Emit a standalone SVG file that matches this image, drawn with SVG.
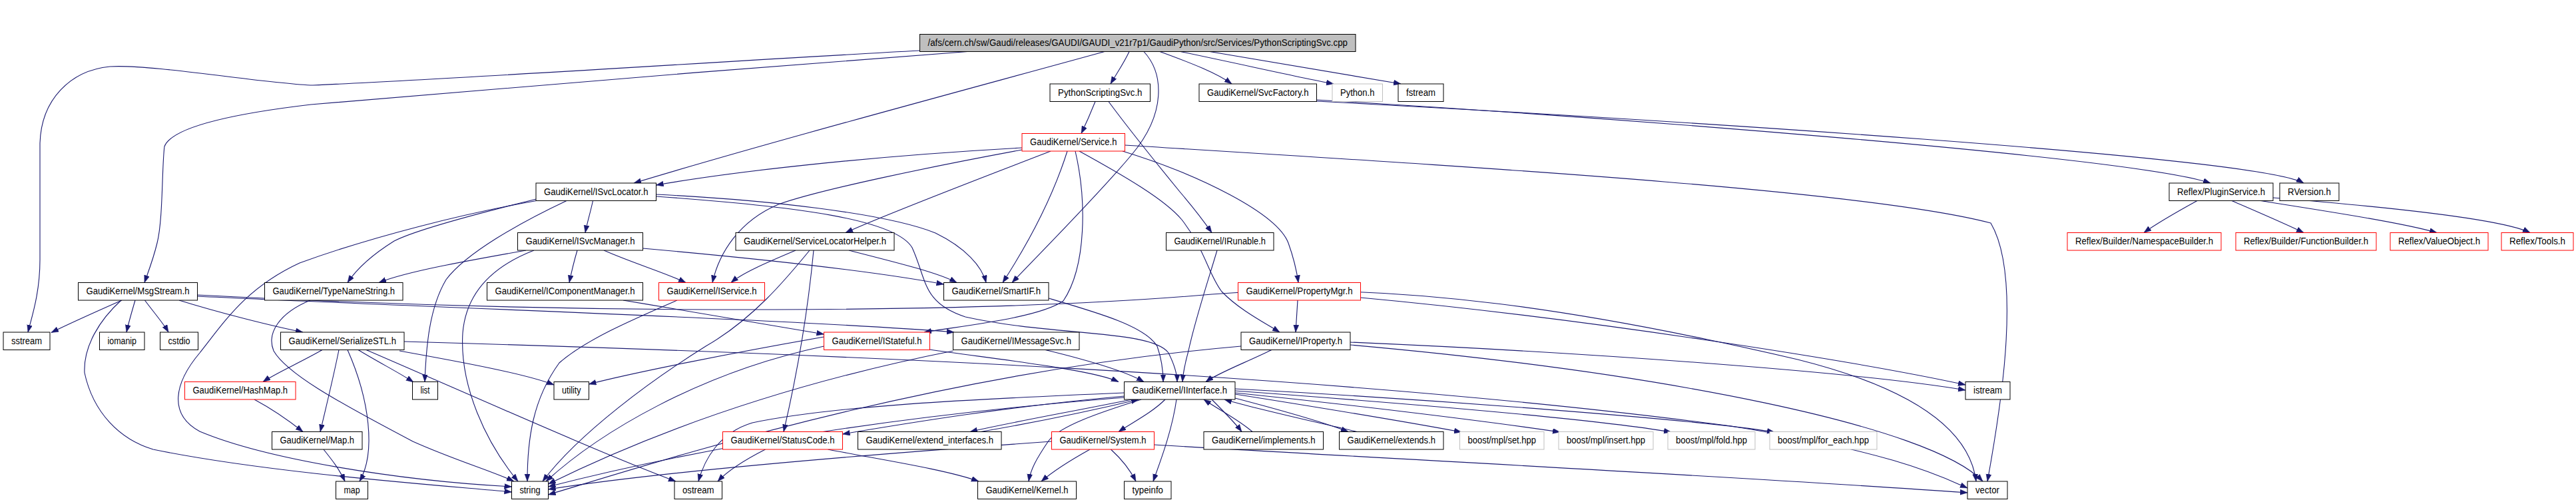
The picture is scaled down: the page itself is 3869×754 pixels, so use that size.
<svg xmlns="http://www.w3.org/2000/svg" width="3869" height="754" viewBox="0 0 3869 754">
<style>
.node rect{fill:#ffffff;stroke:#000000;stroke-width:1}
.node.red rect{stroke:#ff0000}
.node.ext rect{stroke:#bfbfbf}
.node.root rect{fill:#bfbfbf}
.node text{font-family:"Liberation Sans",Arial,sans-serif;font-size:14px;fill:#000000;text-anchor:middle}
#edges path{fill:none;stroke:#191970;stroke-width:1.1;marker-end:url(#arr)}
</style>
<defs>
<marker id="arr" markerUnits="userSpaceOnUse" markerWidth="12" markerHeight="9" refX="11" refY="4" orient="auto">
<path d="M0,0 L11,4 L0,8 z" fill="#191970" stroke="#191970" stroke-width="0.5"/>
</marker>
</defs>
<rect x="0" y="0" width="3869" height="754" fill="#ffffff"/>
<g id="edges">
<path d="M1381.5,76 C1150,88 700,118 470,128 C400,126 230,96 165,100 C105,106 62,150 60,215 L60,390 C60,440 48,475 42,499"/>
<path d="M1453,77.5 C1150,100 650,140 467,157 C340,172 258,192 247,220 C243,250 245,330 236,365 C230,390 222,410 217,424.5"/>
<path d="M1659,77.5 C1450,135 1150,215 952,275"/>
<path d="M1696,77.5 C1688,95 1676,112 1668,126"/>
<path d="M1718,77.5 C1748,110 1752,170 1700,232 C1650,292 1570,372 1520,424.5"/>
<path d="M1742,77.5 C1790,95 1828,110 1850,126"/>
<path d="M1773,77.5 C1880,100 1960,118 2003,126"/>
<path d="M1817,77.5 C1950,100 2060,118 2104,126"/>
<path d="M1645,152.5 C1638,170 1630,188 1624,200.5"/>
<path d="M1665,152.5 C1700,200 1745,255 1772,288 C1795,315 1810,335 1820,349.5"/>
<path d="M1535,222 C1300,235 1100,258 985.5,278"/>
<path d="M1578,227 C1480,265 1330,322 1270,349.5"/>
<path d="M1535,225 C1400,250 1230,285 1169,307 C1110,332 1080,380 1070,424.5"/>
<path d="M1603,227 C1580,300 1540,372 1506,424.5"/>
<path d="M1615,227 C1632,300 1632,400 1597,452 C1560,478 1440,490 1388,499"/>
<path d="M1621,227 C1690,265 1750,300 1775,330 C1810,375 1815,412 1835,438 C1862,466 1900,485 1922,499"/>
<path d="M1686,227 C1800,262 1918,320 1935,365 C1944,390 1948,410 1950,424.5"/>
<path d="M1689.5,218 C2200,250 2800,285 2990,335 C3040,420 3000,640 2985,723"/>
<path d="M1977.5,150 C2400,175 3200,235 3320,275"/>
<path d="M1977.5,152 C2500,180 3390,235 3460,275"/>
<path d="M3300,301.5 C3270,318 3240,335 3220,349.5"/>
<path d="M3352,301.5 C3390,318 3430,335 3460,349.5"/>
<path d="M3395,301.5 C3500,318 3610,335 3660,349.5"/>
<path d="M3414,297 C3600,312 3760,330 3800,349.5"/>
<path d="M890.5,301.5 C887,318 882,334 879,349.5"/>
<path d="M805.5,299 C720,320 625,345 592,362 C560,382 535,405 522,424.5"/>
<path d="M805.5,301.5 C700,320 560,355 450,395 C370,432 338,482 300,530 C262,575 252,622 300,648 C400,690 600,722 768.5,731"/>
<path d="M851,301.5 C780,335 700,380 670,420 C645,462 640,520 638,573.5"/>
<path d="M985.5,292 C1150,300 1330,320 1405,350 C1450,372 1475,400 1481,424.5"/>
<path d="M985.5,295 C1200,310 1345,330 1370,372 C1392,420 1385,455 1450,476 C1580,505 1730,495 1755,530 C1765,550 1768,562 1768,573.5"/>
<path d="M867,376 C862,393 858,410 855,424.5"/>
<path d="M907,376 C950,395 1000,410 1030,424.5"/>
<path d="M790,376 C700,392 610,408 569,424.5"/>
<path d="M802,376 C740,400 700,440 695,500 C690,580 730,665 778,723"/>
<path d="M965.5,373 C1100,385 1300,405 1417.5,427"/>
<path d="M1195,376 C1150,395 1115,410 1098,424.5"/>
<path d="M1275,376 C1350,395 1410,410 1437,424.5"/>
<path d="M1222,376 C1215,450 1200,550 1177,648.5"/>
<path d="M1216,376 C1180,420 1130,480 1060,520 C980,570 870,650 815,723"/>
<path d="M1828,376 C1815,420 1795,480 1785,527 C1780,545 1777,560 1776,573.5"/>
<path d="M466,451 C420,470 400,500 411,527 C430,560 500,600 620,663 C680,690 740,708 772,723"/>
<path d="M183,451 C140,470 100,488 77,499.5"/>
<path d="M203,451 C198,468 193,485 190,499"/>
<path d="M217.5,451 C230,468 245,485 253,499"/>
<path d="M269,451 C330,470 410,490 455,499"/>
<path d="M182,451 C150,480 125,520 127,560 C140,620 180,660 230,675 C400,710 650,728 768.5,739"/>
<path d="M296.5,445 C600,460 1200,480 1433,499"/>
<path d="M296.5,443 C900,475 1500,470 1820,442 C2100,420 2400,470 2700,540 C2900,590 2960,660 2968,723"/>
<path d="M1949,451 C1948,468 1947,485 1946,499"/>
<path d="M2043.5,447 C2400,480 2800,545 2952,578"/>
<path d="M484,525.5 C450,545 415,560 395,573.5"/>
<path d="M509,525.5 C500,570 490,610 481,648.5"/>
<path d="M522,525.5 C555,600 565,680 540,723"/>
<path d="M538,525.5 C570,545 600,560 621,574"/>
<path d="M600,527 C700,545 790,562 832,578"/>
<path d="M550,525.5 C700,590 900,680 1015,723"/>
<path d="M607,513 C1200,530 2000,560 2600,640 C2850,680 2920,718 2955,733"/>
<path d="M382,600 C410,615 438,635 455,648.5"/>
<path d="M486,675 C498,690 510,705 518,723"/>
<path d="M1017,451 C950,480 880,510 840,545 C800,600 792,660 792,723"/>
<path d="M936,451 C1050,470 1170,490 1237.5,502"/>
<path d="M1396.5,525 C1500,540 1640,555 1680,573.5"/>
<path d="M1237.5,520 C1050,560 900,650 820,723"/>
<path d="M1570,525.5 C1650,545 1695,560 1718,573.5"/>
<path d="M1431.5,527 C1200,573 1000,640 823.5,727"/>
<path d="M1575,448 C1650,470 1720,490 1738,520 C1745,540 1747,560 1747,573.5"/>
<path d="M1910,525.5 C1870,545 1830,560 1811,573.5"/>
<path d="M1864,520 C1400,560 1000,690 823.5,743"/>
<path d="M2028,514 C2400,530 2800,560 2952,586"/>
<path d="M2028,518 C2500,560 2900,640 2978,723"/>
<path d="M1688.5,595 C1500,612 1350,638 1265.5,652"/>
<path d="M1700,600 C1600,620 1500,638 1457,648.5"/>
<path d="M1473,648.5 C1580,630 1660,612 1710,600"/>
<path d="M1688.5,590 C1450,600 1250,610 1130,635 C1080,650 1058,690 1049,723"/>
<path d="M1688.5,597 C1400,620 1100,660 823.5,731"/>
<path d="M1750,600 C1730,620 1700,635 1680,648.5"/>
<path d="M1714,600 C1650,620 1592,640 1575,662 C1556,690 1548,705 1545,723"/>
<path d="M1767,600 C1760,650 1740,700 1732,723"/>
<path d="M1820,600 C1840,620 1855,635 1865,648.5"/>
<path d="M1881,648.5 C1860,630 1830,615 1808,600"/>
<path d="M1855,598 C1920,615 1990,635 2025,648.5"/>
<path d="M2038,648.5 C1960,630 1890,615 1839,600"/>
<path d="M1855,592 C2000,615 2120,635 2195,649"/>
<path d="M1855,590 C2050,610 2250,635 2343,649"/>
<path d="M1855,587 C2100,605 2400,630 2510,649"/>
<path d="M1855,584 C2150,600 2550,630 2665,649"/>
<path d="M1149.5,675 C1120,690 1095,705 1078,723"/>
<path d="M1243.5,675 C1320,690 1420,705 1470,723"/>
<path d="M1637,675 C1610,690 1585,705 1564,723"/>
<path d="M1668.5,675 C1685,690 1697,705 1706,723"/>
<path d="M1579.5,663 C1200,690 950,715 823.5,735"/>
<path d="M1733.5,668 C2100,690 2600,715 2955,740"/>
<path d="M1237.5,506 C1100,530 950,560 884.5,577"/>
</g>
<g id="n0" class="node root"><rect x="1381.5" y="51.5" width="654.5" height="26"/><text x="1708.75" y="69.3" textLength="630.5" lengthAdjust="spacingAndGlyphs">/afs/cern.ch/sw/Gaudi/releases/GAUDI/GAUDI_v21r7p1/GaudiPython/src/Services/PythonScriptingSvc.cpp</text></g>
<g id="n1" class="node"><rect x="1577" y="126" width="150.5" height="26.5"/><text x="1652.25" y="143.8" textLength="126.5" lengthAdjust="spacingAndGlyphs">PythonScriptingSvc.h</text></g>
<g id="n2" class="node"><rect x="1801" y="126" width="176.5" height="26.5"/><text x="1889.25" y="143.8" textLength="152.5" lengthAdjust="spacingAndGlyphs">GaudiKernel/SvcFactory.h</text></g>
<g id="n3" class="node ext"><rect x="2001" y="126" width="75.5" height="26.5"/><text x="2038.75" y="143.8" textLength="51.5" lengthAdjust="spacingAndGlyphs">Python.h</text></g>
<g id="n4" class="node"><rect x="2100" y="126" width="68" height="26.5"/><text x="2134" y="143.8" textLength="44" lengthAdjust="spacingAndGlyphs">fstream</text></g>
<g id="n5" class="node red"><rect x="1535" y="200.5" width="154.5" height="26.5"/><text x="1612.25" y="218.3" textLength="130.5" lengthAdjust="spacingAndGlyphs">GaudiKernel/Service.h</text></g>
<g id="n6" class="node"><rect x="805" y="275" width="180.5" height="26.5"/><text x="895.25" y="292.8" textLength="156.5" lengthAdjust="spacingAndGlyphs">GaudiKernel/ISvcLocator.h</text></g>
<g id="n44" class="node"><rect x="3258" y="275" width="156" height="26.5"/><text x="3336" y="292.8" textLength="132" lengthAdjust="spacingAndGlyphs">Reflex/PluginService.h</text></g>
<g id="n45" class="node"><rect x="3424" y="275" width="89" height="26.5"/><text x="3468.5" y="292.8" textLength="65" lengthAdjust="spacingAndGlyphs">RVersion.h</text></g>
<g id="n7" class="node"><rect x="777.5" y="349.5" width="188" height="26.5"/><text x="871.5" y="367.3" textLength="164" lengthAdjust="spacingAndGlyphs">GaudiKernel/ISvcManager.h</text></g>
<g id="n8" class="node"><rect x="1105" y="349.5" width="238" height="26.5"/><text x="1224" y="367.3" textLength="214" lengthAdjust="spacingAndGlyphs">GaudiKernel/ServiceLocatorHelper.h</text></g>
<g id="n9" class="node"><rect x="1751.5" y="349.5" width="161.5" height="26.5"/><text x="1832.25" y="367.3" textLength="137.5" lengthAdjust="spacingAndGlyphs">GaudiKernel/IRunable.h</text></g>
<g id="n46" class="node red"><rect x="3105" y="349.5" width="231" height="26.5"/><text x="3220.5" y="367.3" textLength="207" lengthAdjust="spacingAndGlyphs">Reflex/Builder/NamespaceBuilder.h</text></g>
<g id="n47" class="node red"><rect x="3358" y="349.5" width="211" height="26.5"/><text x="3463.5" y="367.3" textLength="187" lengthAdjust="spacingAndGlyphs">Reflex/Builder/FunctionBuilder.h</text></g>
<g id="n48" class="node red"><rect x="3590" y="349.5" width="147" height="26.5"/><text x="3663.5" y="367.3" textLength="123" lengthAdjust="spacingAndGlyphs">Reflex/ValueObject.h</text></g>
<g id="n49" class="node red"><rect x="3757" y="349.5" width="108" height="26.5"/><text x="3811" y="367.3" textLength="84" lengthAdjust="spacingAndGlyphs">Reflex/Tools.h</text></g>
<g id="n11" class="node"><rect x="117.5" y="424.5" width="179" height="26.5"/><text x="207" y="442.3" textLength="155" lengthAdjust="spacingAndGlyphs">GaudiKernel/MsgStream.h</text></g>
<g id="n10" class="node"><rect x="397.5" y="424.5" width="207.5" height="26.5"/><text x="501.25" y="442.3" textLength="183.5" lengthAdjust="spacingAndGlyphs">GaudiKernel/TypeNameString.h</text></g>
<g id="n12" class="node"><rect x="731.5" y="424.5" width="234" height="26.5"/><text x="848.5" y="442.3" textLength="210" lengthAdjust="spacingAndGlyphs">GaudiKernel/IComponentManager.h</text></g>
<g id="n13" class="node red"><rect x="989.5" y="424.5" width="159" height="26.5"/><text x="1069" y="442.3" textLength="135" lengthAdjust="spacingAndGlyphs">GaudiKernel/IService.h</text></g>
<g id="n14" class="node"><rect x="1417.5" y="424.5" width="157.5" height="26.5"/><text x="1496.25" y="442.3" textLength="133.5" lengthAdjust="spacingAndGlyphs">GaudiKernel/SmartIF.h</text></g>
<g id="n15" class="node red"><rect x="1859.5" y="424.5" width="184" height="26.5"/><text x="1951.5" y="442.3" textLength="160" lengthAdjust="spacingAndGlyphs">GaudiKernel/PropertyMgr.h</text></g>
<g id="n16" class="node"><rect x="5" y="499" width="70" height="26.5"/><text x="40" y="516.8" textLength="46" lengthAdjust="spacingAndGlyphs">sstream</text></g>
<g id="n17" class="node"><rect x="149.5" y="499" width="67.5" height="26.5"/><text x="183.25" y="516.8" textLength="43.5" lengthAdjust="spacingAndGlyphs">iomanip</text></g>
<g id="n18" class="node"><rect x="240.5" y="499" width="57" height="26.5"/><text x="269" y="516.8" textLength="33" lengthAdjust="spacingAndGlyphs">cstdio</text></g>
<g id="n19" class="node"><rect x="421.5" y="499" width="185.5" height="26.5"/><text x="514.25" y="516.8" textLength="161.5" lengthAdjust="spacingAndGlyphs">GaudiKernel/SerializeSTL.h</text></g>
<g id="n20" class="node red"><rect x="1237.5" y="499" width="159" height="26.5"/><text x="1317" y="516.8" textLength="135" lengthAdjust="spacingAndGlyphs">GaudiKernel/IStateful.h</text></g>
<g id="n21" class="node"><rect x="1431.5" y="499" width="189.5" height="26.5"/><text x="1526.25" y="516.8" textLength="165.5" lengthAdjust="spacingAndGlyphs">GaudiKernel/IMessageSvc.h</text></g>
<g id="n22" class="node"><rect x="1864" y="499" width="164" height="26.5"/><text x="1946" y="516.8" textLength="140" lengthAdjust="spacingAndGlyphs">GaudiKernel/IProperty.h</text></g>
<g id="n23" class="node red"><rect x="277.5" y="573.5" width="166.5" height="26.5"/><text x="360.75" y="591.3" textLength="142.5" lengthAdjust="spacingAndGlyphs">GaudiKernel/HashMap.h</text></g>
<g id="n24" class="node"><rect x="619.5" y="573.5" width="38" height="26.5"/><text x="638.5" y="591.3" textLength="14" lengthAdjust="spacingAndGlyphs">list</text></g>
<g id="n25" class="node"><rect x="832" y="573.5" width="52.5" height="26.5"/><text x="858.25" y="591.3" textLength="28.5" lengthAdjust="spacingAndGlyphs">utility</text></g>
<g id="n26" class="node"><rect x="1688.5" y="573.5" width="166.5" height="26.5"/><text x="1771.75" y="591.3" textLength="142.5" lengthAdjust="spacingAndGlyphs">GaudiKernel/IInterface.h</text></g>
<g id="n27" class="node"><rect x="2952" y="573.5" width="67" height="26.5"/><text x="2985.5" y="591.3" textLength="43" lengthAdjust="spacingAndGlyphs">istream</text></g>
<g id="n28" class="node"><rect x="408.5" y="648.5" width="135.5" height="26.5"/><text x="476.25" y="666.3" textLength="111.5" lengthAdjust="spacingAndGlyphs">GaudiKernel/Map.h</text></g>
<g id="n29" class="node red"><rect x="1085.5" y="648.5" width="180" height="26.5"/><text x="1175.5" y="666.3" textLength="156" lengthAdjust="spacingAndGlyphs">GaudiKernel/StatusCode.h</text></g>
<g id="n30" class="node"><rect x="1288.5" y="648.5" width="215.5" height="26.5"/><text x="1396.25" y="666.3" textLength="191.5" lengthAdjust="spacingAndGlyphs">GaudiKernel/extend_interfaces.h</text></g>
<g id="n31" class="node red"><rect x="1579.5" y="648.5" width="154" height="26.5"/><text x="1656.5" y="666.3" textLength="130" lengthAdjust="spacingAndGlyphs">GaudiKernel/System.h</text></g>
<g id="n32" class="node"><rect x="1808" y="648.5" width="179.5" height="26.5"/><text x="1897.75" y="666.3" textLength="155.5" lengthAdjust="spacingAndGlyphs">GaudiKernel/implements.h</text></g>
<g id="n33" class="node"><rect x="2011.5" y="648.5" width="156.5" height="26.5"/><text x="2089.75" y="666.3" textLength="132.5" lengthAdjust="spacingAndGlyphs">GaudiKernel/extends.h</text></g>
<g id="n34" class="node ext"><rect x="2192.5" y="648.5" width="126.5" height="26.5"/><text x="2255.75" y="666.3" textLength="102.5" lengthAdjust="spacingAndGlyphs">boost/mpl/set.hpp</text></g>
<g id="n35" class="node ext"><rect x="2341" y="648.5" width="142" height="26.5"/><text x="2412" y="666.3" textLength="118" lengthAdjust="spacingAndGlyphs">boost/mpl/insert.hpp</text></g>
<g id="n36" class="node ext"><rect x="2505" y="648.5" width="131" height="26.5"/><text x="2570.5" y="666.3" textLength="107" lengthAdjust="spacingAndGlyphs">boost/mpl/fold.hpp</text></g>
<g id="n37" class="node ext"><rect x="2658" y="648.5" width="161" height="26.5"/><text x="2738.5" y="666.3" textLength="137" lengthAdjust="spacingAndGlyphs">boost/mpl/for_each.hpp</text></g>
<g id="n38" class="node"><rect x="504.5" y="723" width="48" height="26.5"/><text x="528.5" y="740.8" textLength="24" lengthAdjust="spacingAndGlyphs">map</text></g>
<g id="n39" class="node"><rect x="768.5" y="723" width="55" height="26.5"/><text x="796" y="740.8" textLength="31" lengthAdjust="spacingAndGlyphs">string</text></g>
<g id="n40" class="node"><rect x="1013" y="723" width="71.5" height="26.5"/><text x="1048.75" y="740.8" textLength="47.5" lengthAdjust="spacingAndGlyphs">ostream</text></g>
<g id="n41" class="node"><rect x="1468.5" y="723" width="148" height="26.5"/><text x="1542.5" y="740.8" textLength="124" lengthAdjust="spacingAndGlyphs">GaudiKernel/Kernel.h</text></g>
<g id="n42" class="node"><rect x="1688.5" y="723" width="70.5" height="26.5"/><text x="1723.75" y="740.8" textLength="46.5" lengthAdjust="spacingAndGlyphs">typeinfo</text></g>
<g id="n43" class="node"><rect x="2955" y="723" width="60" height="26.5"/><text x="2985" y="740.8" textLength="36" lengthAdjust="spacingAndGlyphs">vector</text></g>
</svg>
